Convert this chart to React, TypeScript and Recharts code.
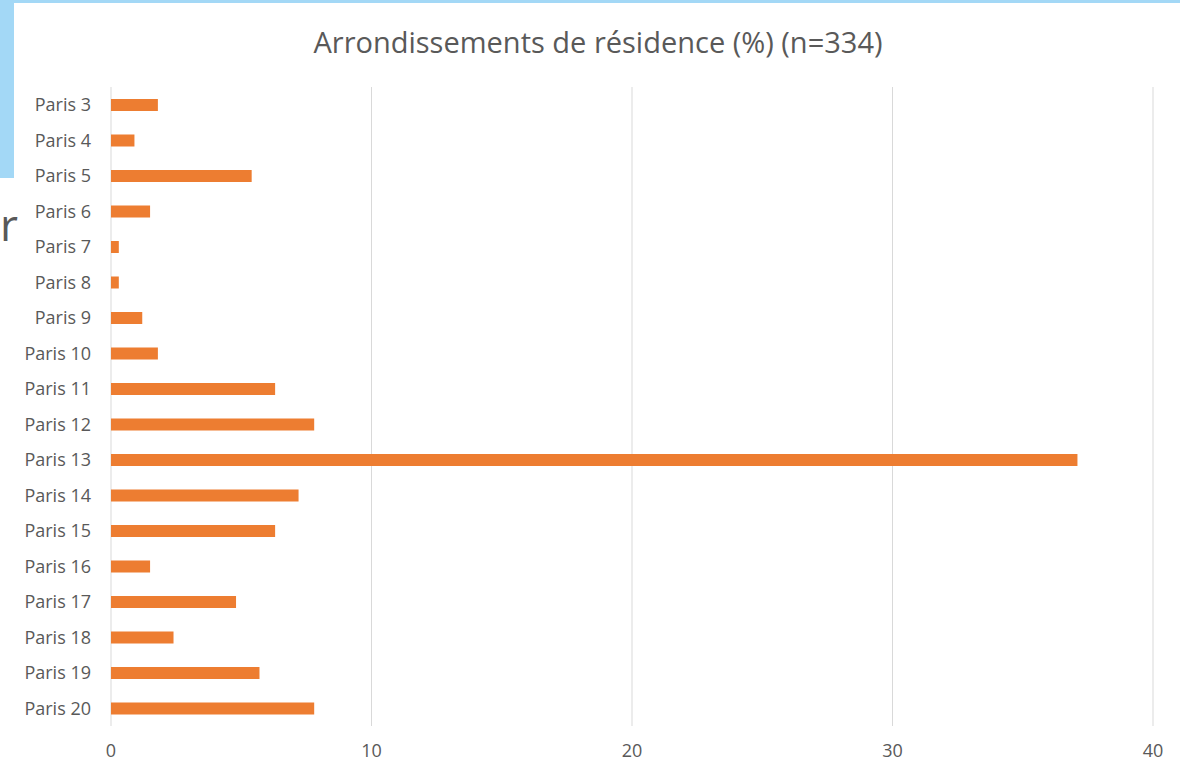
import { Bar, BarChart, CartesianGrid, XAxis, YAxis } from 'recharts';

const CATEGORIES = [
  'Paris 3', 'Paris 4', 'Paris 5', 'Paris 6', 'Paris 7', 'Paris 8', 'Paris 9', 'Paris 10',
  'Paris 11', 'Paris 12', 'Paris 13', 'Paris 14', 'Paris 15', 'Paris 16', 'Paris 17',
  'Paris 18', 'Paris 19', 'Paris 20',
];
const PERCENTS = [1.8, 0.9, 5.4, 1.5, 0.3, 0.3, 1.2, 1.8, 6.3, 7.8, 37.1, 7.2, 6.3, 1.5, 4.8, 2.4, 5.7, 7.8];
const X_TICKS = [0, 10, 20, 30, 40];

const TITLE = 'Arrondissements de résidence (%) (n=334)';
const FONT = '"Open Sans", "Noto Sans", sans-serif';
const TEXT = '#595959';

const rows = CATEGORIES.map((name, i) => ({ name, value: PERCENTS[i] }));

export default function App() {
  return (
    <div
      style={{
        position: 'fixed',
        left: 0,
        top: 0,
        width: 1180,
        height: 764,
        background: '#fff',
        fontFamily: FONT,
        overflow: 'hidden',
      }}
    >
      {/* frame bits from the screenshot */}
      <div style={{ position: 'absolute', left: 0, top: 0, width: 1180, height: 3, background: '#a3d8f6' }} />
      <div style={{ position: 'absolute', left: 0, top: 0, width: 14, height: 178, background: '#a3d8f6' }} />
      <div style={{ position: 'absolute', left: 0, top: 202, fontSize: 44, color: TEXT, lineHeight: 1 }}>r</div>

      <div
        style={{
          position: 'absolute',
          left: 0,
          top: 22,
          width: 1196,
          textAlign: 'center',
          fontSize: 29,
          color: TEXT,
          lineHeight: '40px',
        }}
      >
        {TITLE}
      </div>

      <div style={{ position: 'absolute', left: 0, top: 0 }}>
        <BarChart
          width={1180}
          height={764}
          data={rows}
          layout="vertical"
          margin={{ top: 87, right: 27, bottom: 0, left: 0 }}
        >
          <CartesianGrid horizontal={false} stroke="#d9d9d9" strokeWidth={1} />
          <XAxis
            type="number"
            domain={[0, 40]}
            ticks={X_TICKS}
            height={38}
            axisLine={false}
            tickLine={false}
            tickSize={0}
            tickMargin={18}
            tick={{ fill: TEXT, fontSize: 18, fontFamily: FONT }}
          />
          <YAxis
            type="category"
            dataKey="name"
            width={111}
            axisLine={false}
            tickLine={false}
            tickSize={0}
            tickMargin={20}
            interval={0}
            tick={{ fill: TEXT, fontSize: 18, fontFamily: FONT }}
          />
          <Bar dataKey="value" fill="#ed7d31" barSize={12} isAnimationActive={false} />
        </BarChart>
      </div>
    </div>
  );
}
